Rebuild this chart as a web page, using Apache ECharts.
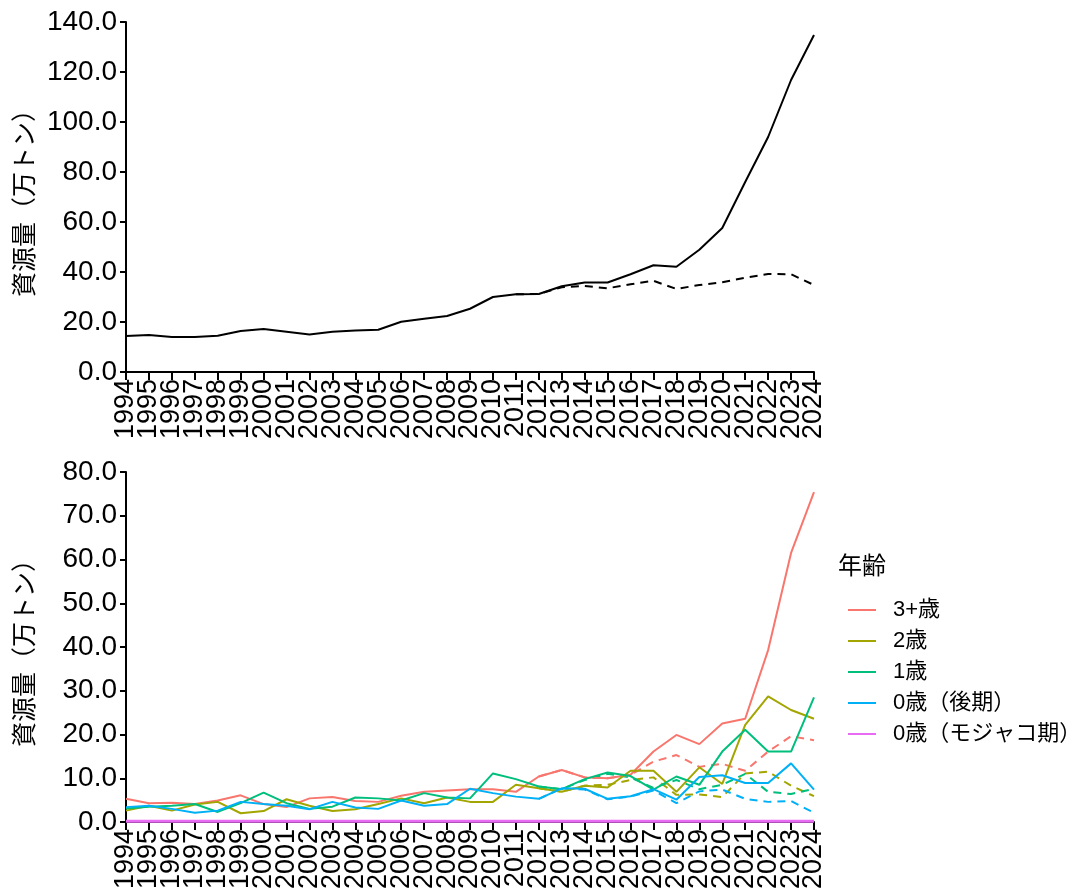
<!DOCTYPE html>
<html>
<head>
<meta charset="utf-8">
<script src="https://cdn.jsdelivr.net/npm/echarts@6/dist/echarts.min.js"></script>
<style>
  html, body { margin: 0; padding: 0; background: #fff; }
  #main { width: 1070px; height: 896px; }
</style>
</head>
<body>
<div id="main"></div>
<script>
// 年
const years = []
for (let y = 1994; y <= 2024; y++) years.push(String(y))

// 上段：資源量合計（実線）と遡及推定（破線）
const total = [14.4, 14.8, 14.0, 14.0, 14.5, 16.4, 17.2, 16.1, 15.0, 16.1, 16.6, 16.9, 20.1, 21.3, 22.4, 25.3,
  30.0, 31.1, 31.2, 34.3, 35.8, 35.8, 39.1, 42.7, 42.1, 48.9, 57.6, 76.0, 94.0, 116.8, 134.8]
const totalPrev = [null, null, null, null, null, null, null, null, null, null, null, null, null, null, null, null,
  null, 31.1, 31.2, 33.9, 34.4, 33.5, 35.1, 36.5, 33.2, 34.8, 35.9, 37.7, 39.2, 39.1, 34.8]

// 下段：年齢別
const age3 = [5.3, 4.3, 4.4, 4.1, 4.9, 6.1, 4.1, 3.4, 5.4, 5.7, 4.8, 4.6, 6.0, 6.9, 7.2, 7.5,
  7.5, 6.9, 10.4, 11.9, 10.2, 10.0, 10.8, 16.1, 19.9, 17.8, 22.5, 23.6, 39.3, 61.5, 75.4]
const age2 = [2.6, 3.7, 2.6, 4.0, 4.6, 2.0, 2.5, 5.2, 3.7, 2.5, 2.9, 4.1, 5.4, 4.3, 5.6, 4.6,
  4.6, 8.5, 7.7, 6.9, 8.3, 7.9, 11.7, 11.7, 6.9, 12.5, 8.7, 22.2, 28.7, 25.6, 23.6]
const age1 = [3.1, 3.5, 3.7, 4.1, 2.3, 4.3, 6.7, 4.3, 3.0, 3.5, 5.6, 5.4, 4.9, 6.6, 5.6, 5.4,
  11.1, 9.8, 8.1, 7.5, 9.8, 11.3, 10.5, 7.4, 10.4, 8.5, 16.1, 21.1, 16.1, 16.1, 28.5]
const age0 = [3.4, 3.7, 3.0, 2.1, 2.6, 4.6, 4.1, 3.7, 2.9, 4.6, 3.3, 3.0, 4.9, 3.7, 4.1, 7.6,
  6.6, 5.8, 5.3, 7.7, 7.6, 5.3, 5.9, 7.5, 5.1, 10.3, 10.7, 8.9, 8.9, 13.4, 7.4]
const age0moj = [0.2, 0.2, 0.2, 0.2, 0.2, 0.2, 0.2, 0.2, 0.2, 0.2, 0.2, 0.2, 0.2, 0.2, 0.2, 0.2,
  0.2, 0.2, 0.2, 0.2, 0.2, 0.2, 0.2, 0.2, 0.2, 0.2, 0.2, 0.2, 0.2, 0.2, 0.2]

const pad = [null, null, null, null, null, null, null, null, null, null, null, null, null, null, null, null, null, null]
const age3Prev = pad.concat([10.4, 11.9, 10.2, 10.0, 10.8, 13.8, 15.3, 12.6, 13.3, 11.7, 16.1, 19.6, 18.7])
const age2Prev = pad.concat([7.7, 6.9, 8.3, 8.5, 9.6, 10.2, 6.2, 6.3, 5.7, 11.1, 11.5, 8.3, 5.9])
const age1Prev = pad.concat([8.1, 7.5, 9.6, 11.0, 10.2, 7.8, 9.6, 7.5, 8.5, 11.0, 6.9, 6.4, 7.6])
const age0Prev = pad.concat([5.3, 7.7, 7.4, 5.2, 5.8, 7.2, 4.3, 7.0, 7.4, 5.3, 4.6, 4.8, 2.1])

const ageNames = ['3+歳', '2歳', '1歳', '0歳（後期）', '0歳（モジャコ期）']
const colors = ['#F8766D', '#A3A500', '#00BF7D', '#00B0F6', '#E76BF3']

const chart = echarts.init(document.getElementById('main'))

function xAx (gridIndex) {
  return {
    type: 'category',
    gridIndex: gridIndex,
    data: years,
    boundaryGap: false,
    axisLine: { lineStyle: { color: '#000', width: 2 } },
    axisTick: { interval: 0, length: 8, lineStyle: { color: '#000', width: 2 } },
    axisLabel: { interval: 0, rotate: 90, margin: 7, fontSize: 27, color: '#000' },
    splitLine: { show: false }
  }
}
function yAx (gridIndex, max, interval) {
  return {
    type: 'value',
    gridIndex: gridIndex,
    min: 0,
    max: max,
    interval: interval,
    name: '資源量（万トン）',
    nameLocation: 'middle',
    nameGap: 90,
    nameTextStyle: { fontSize: 25, color: '#000', fontFamily: 'Noto Sans CJK JP' },
    axisLine: { show: true, lineStyle: { color: '#000', width: 2 } },
    axisTick: { show: true, length: 6, lineStyle: { color: '#000', width: 2 } },
    axisLabel: { fontSize: 28, color: '#000', margin: 9, formatter: v => v.toFixed(1) },
    splitLine: { show: false }
  }
}
function line (name, data, color, x, dashed) {
  return {
    name: name,
    type: 'line',
    xAxisIndex: x,
    yAxisIndex: x,
    data: data,
    showSymbol: false,
    symbol: 'none',
    connectNulls: false,
    lineStyle: { color: color, width: 2, type: dashed ? [8, 6] : 'solid' },
    itemStyle: { color: color },
    z: 3
  }
}

const series = [
  line('合計', total, '#000', 0, false),
  line('合計(前年)', totalPrev, '#000', 0, true),
  line(ageNames[0] + '-p', age3Prev, colors[0], 1, true),
  line(ageNames[1] + '-p', age2Prev, colors[1], 1, true),
  line(ageNames[2] + '-p', age1Prev, colors[2], 1, true),
  line(ageNames[3] + '-p', age0Prev, colors[3], 1, true),
  line(ageNames[0], age3, colors[0], 1, false),
  line(ageNames[1], age2, colors[1], 1, false),
  line(ageNames[2], age1, colors[2], 1, false),
  line(ageNames[3], age0, colors[3], 1, false),
  line(ageNames[4], age0moj, colors[4], 1, false)
]
series[series.length - 1].lineStyle.width = 3
series[series.length - 1].z = 10

chart.setOption({
  animation: false,
  textStyle: { fontFamily: '"Liberation Sans", Arial, "Noto Sans CJK JP"' },
  title: {
    text: '年齢',
    left: 833,
    top: 548,
    textStyle: { fontSize: 24, fontWeight: 'normal', color: '#000', fontFamily: 'Noto Sans CJK JP' }
  },
  legend: {
    data: ageNames,
    orient: 'vertical',
    left: 843,
    top: 594,
    icon: 'rect',
    itemWidth: 28,
    itemHeight: 2,
    itemGap: 9,
    selectedMode: false,
    textStyle: { fontSize: 22, color: '#000', padding: [0, 0, 0, 12], fontFamily: '"Liberation Sans", "Noto Sans CJK JP"' }
  },
  grid: [
    { left: 126, top: 22, width: 688, height: 350 },
    { left: 126, top: 472, width: 688, height: 350 }
  ],
  xAxis: [xAx(0), xAx(1)],
  yAxis: [yAx(0, 140, 20), yAx(1, 80, 10)],
  series: series
})
</script>
</body>
</html>
